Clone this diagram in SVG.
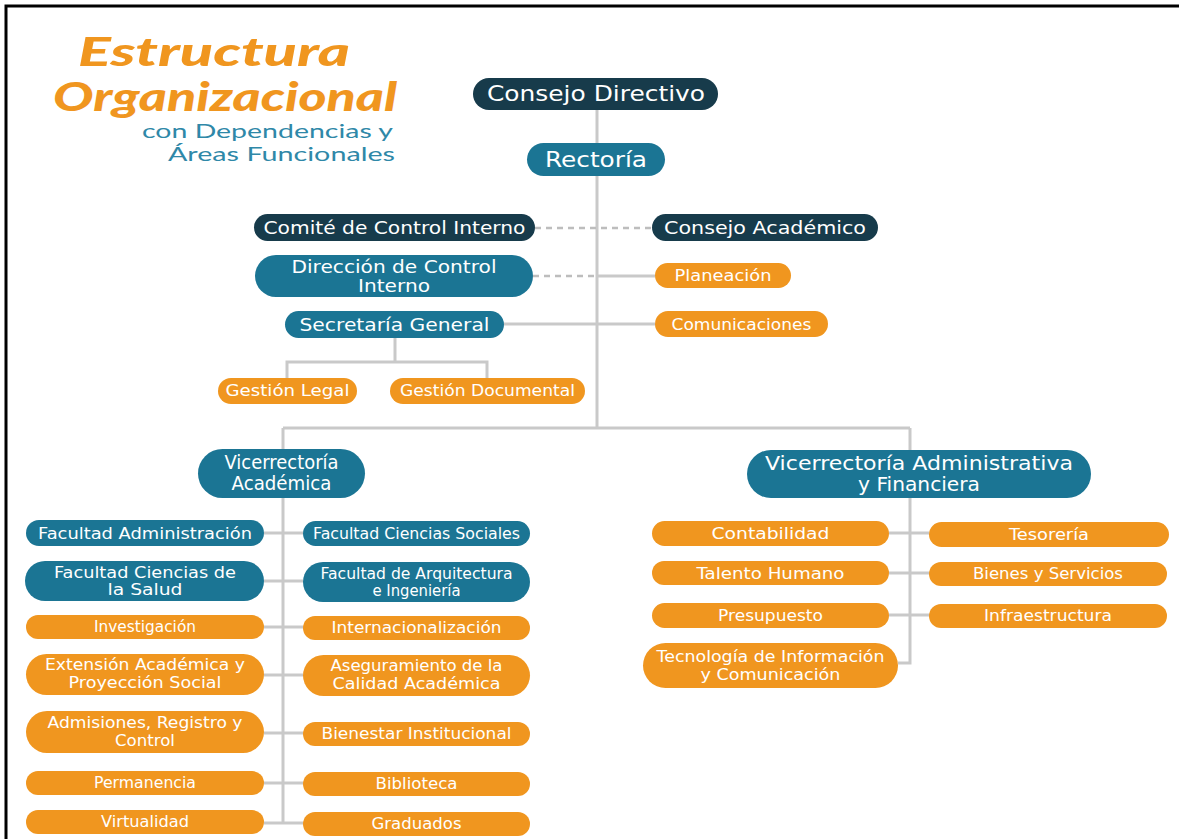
<svg xmlns="http://www.w3.org/2000/svg" width="1179" height="839" viewBox="0 0 1179 839">
<style>
.dk{fill:#173b4b}
.tl{fill:#1b7594}
.or{fill:#f0961f}
text{font-family:"DejaVu Sans","Liberation Sans",sans-serif;fill:#ffffff;text-anchor:middle}
.s21{font-size:21px}
.s19{font-size:19px}
.s18{font-size:18px}
.s16{font-size:16px}
.s15{font-size:15px}
.s14{font-size:15px}
.ln{stroke:#c9c9c9;stroke-width:3;fill:none}
.ds{stroke:#bdbdbd;stroke-width:2.5;fill:none;stroke-dasharray:6 5}
.ttl{font-family:"Lato","DejaVu Sans",sans-serif;font-style:italic;font-weight:900;fill:#f0961f;text-anchor:start}
.sub{font-family:"Lato","DejaVu Sans",sans-serif;fill:#2f88a8;text-anchor:start;font-size:19px}
</style>
<rect width="1179" height="839" fill="#ffffff"/>
<path d="M6 839 V6 H1179" stroke="#000" stroke-width="3" fill="none"/>

<g id="title">
<text class="ttl" x="78" y="66" font-size="40" textLength="272" lengthAdjust="spacingAndGlyphs">Estructura</text>
<text class="ttl" x="53" y="111" font-size="40" textLength="344" lengthAdjust="spacingAndGlyphs">Organizacional</text>
<text class="sub" x="142" y="138" textLength="251" lengthAdjust="spacingAndGlyphs">con Dependencias y</text>
<text class="sub" x="168" y="161" textLength="227" lengthAdjust="spacingAndGlyphs">Áreas Funcionales</text>
</g>

<g id="connectors">
<path class="ln" d="M597 110 V428"/>
<path class="ln" d="M283 428 H910"/>
<path class="ln" d="M283 428 V449"/>
<path class="ln" d="M283 498 V823"/>
<path class="ln" d="M910 428 V450"/>
<path class="ln" d="M910 498 V663 H898"/>
<path class="ds" d="M535 228 H652"/>
<path class="ds" d="M533 276 H597"/>
<path class="ln" d="M597 276 H655"/>
<path class="ln" d="M504 324 H655"/>
<path class="ln" d="M395 338 V362 M287 378 V362 H487 V378"/>
<path class="ln" d="M264 533 H303 M264 581 H303 M264 627 H303 M264 675 H303 M264 733 H303 M264 783 H303 M264 823 H303"/>
<path class="ln" d="M889 533 H929 M889 573 H929 M889 615 H929"/>
</g>

<g id="consejo-directivo"><rect class="dk" x="473" y="78" width="245" height="32" rx="16"/><text class="s21" x="596" y="101" textLength="218" lengthAdjust="spacingAndGlyphs">Consejo Directivo</text></g>
<g id="rectoria"><rect class="tl" x="527" y="143" width="138" height="33" rx="16.5"/><text class="s21" x="596" y="167" textLength="102" lengthAdjust="spacingAndGlyphs">Rectoría</text></g>
<g id="comite-control"><rect class="dk" x="254" y="214" width="281" height="27" rx="13.5"/><text class="s18" x="394.5" y="234" textLength="262" lengthAdjust="spacingAndGlyphs">Comité de Control Interno</text></g>
<g id="consejo-academico"><rect class="dk" x="652" y="214" width="226" height="27" rx="13.5"/><text class="s18" x="765" y="234" textLength="202" lengthAdjust="spacingAndGlyphs">Consejo Académico</text></g>
<g id="direccion-control"><rect class="tl" x="255" y="255" width="278" height="42" rx="21"/><text class="s18" x="394" y="273" textLength="205" lengthAdjust="spacingAndGlyphs">Dirección de Control</text><text class="s18" x="394" y="292" textLength="72" lengthAdjust="spacingAndGlyphs">Interno</text></g>
<g id="secretaria"><rect class="tl" x="285" y="311" width="219" height="27" rx="13.5"/><text class="s18" x="394.5" y="331" textLength="190" lengthAdjust="spacingAndGlyphs">Secretaría General</text></g>
<g id="planeacion"><rect class="or" x="655" y="263" width="136" height="25" rx="12.5"/><text class="s15" x="723" y="281" textLength="97" lengthAdjust="spacingAndGlyphs">Planeación</text></g>
<g id="comunicaciones"><rect class="or" x="655" y="311" width="173" height="26" rx="13"/><text class="s15" x="741.5" y="329.5" textLength="140" lengthAdjust="spacingAndGlyphs">Comunicaciones</text></g>
<g id="gestion-legal"><rect class="or" x="218" y="378" width="139" height="26" rx="13"/><text class="s15" x="287.5" y="396" textLength="124" lengthAdjust="spacingAndGlyphs">Gestión Legal</text></g>
<g id="gestion-documental"><rect class="or" x="390" y="378" width="195" height="26" rx="13"/><text class="s15" x="487.5" y="396" textLength="175" lengthAdjust="spacingAndGlyphs">Gestión Documental</text></g>

<g id="vice-academica"><rect class="tl" x="198" y="449" width="167" height="49" rx="24.5"/><text class="s19" x="281.5" y="469" textLength="114" lengthAdjust="spacingAndGlyphs">Vicerrectoría</text><text class="s19" x="281.5" y="490" textLength="100" lengthAdjust="spacingAndGlyphs">Académica</text></g>
<g id="vice-administrativa"><rect class="tl" x="747" y="450" width="344" height="48" rx="24"/><text class="s19" x="919" y="470" textLength="308" lengthAdjust="spacingAndGlyphs">Vicerrectoría Administrativa</text><text class="s19" x="919" y="491" textLength="122" lengthAdjust="spacingAndGlyphs">y Financiera</text></g>

<g id="fac-administracion"><rect class="tl" x="26" y="520" width="238" height="26" rx="13"/><text class="s16" x="145" y="538.5" textLength="214" lengthAdjust="spacingAndGlyphs">Facultad Administración</text></g>
<g id="fac-sociales"><rect class="tl" x="303" y="521" width="227" height="25" rx="12.5"/><text class="s16" x="416.5" y="539" textLength="207" lengthAdjust="spacingAndGlyphs">Facultad Ciencias Sociales</text></g>
<g id="fac-salud"><rect class="tl" x="25" y="561" width="239" height="40" rx="20"/><text class="s16" x="145" y="578" textLength="182" lengthAdjust="spacingAndGlyphs">Facultad Ciencias de</text><text class="s16" x="145" y="595" textLength="75" lengthAdjust="spacingAndGlyphs">la Salud</text></g>
<g id="fac-arquitectura"><rect class="tl" x="303" y="562" width="227" height="40" rx="20"/><text class="s16" x="416.5" y="579" textLength="192" lengthAdjust="spacingAndGlyphs">Facultad de Arquitectura</text><text class="s16" x="416.5" y="596" textLength="88" lengthAdjust="spacingAndGlyphs">e Ingeniería</text></g>
<g id="investigacion"><rect class="or" x="26" y="615" width="238" height="24" rx="12"/><text class="s14" x="145" y="632" textLength="102" lengthAdjust="spacingAndGlyphs">Investigación</text></g>
<g id="internacionalizacion"><rect class="or" x="303" y="616" width="227" height="24" rx="12"/><text class="s14" x="416.5" y="633" textLength="170" lengthAdjust="spacingAndGlyphs">Internacionalización</text></g>
<g id="extension"><rect class="or" x="26" y="654" width="238" height="41" rx="20.5"/><text class="s14" x="145" y="670" textLength="200" lengthAdjust="spacingAndGlyphs">Extensión Académica y</text><text class="s14" x="145" y="688" textLength="153" lengthAdjust="spacingAndGlyphs">Proyección Social</text></g>
<g id="aseguramiento"><rect class="or" x="303" y="655" width="227" height="41" rx="20.5"/><text class="s14" x="416.5" y="671" textLength="172" lengthAdjust="spacingAndGlyphs">Aseguramiento de la</text><text class="s14" x="416.5" y="689" textLength="168" lengthAdjust="spacingAndGlyphs">Calidad Académica</text></g>
<g id="admisiones"><rect class="or" x="26" y="711" width="238" height="42" rx="21"/><text class="s14" x="145" y="728" textLength="195" lengthAdjust="spacingAndGlyphs">Admisiones, Registro y</text><text class="s14" x="145" y="746" textLength="60" lengthAdjust="spacingAndGlyphs">Control</text></g>
<g id="bienestar"><rect class="or" x="303" y="722" width="227" height="24" rx="12"/><text class="s14" x="416.5" y="739" textLength="190" lengthAdjust="spacingAndGlyphs">Bienestar Institucional</text></g>
<g id="permanencia"><rect class="or" x="26" y="771" width="238" height="24" rx="12"/><text class="s14" x="145" y="788" textLength="102" lengthAdjust="spacingAndGlyphs">Permanencia</text></g>
<g id="biblioteca"><rect class="or" x="303" y="772" width="227" height="24" rx="12"/><text class="s14" x="416.5" y="789" textLength="82" lengthAdjust="spacingAndGlyphs">Biblioteca</text></g>
<g id="virtualidad"><rect class="or" x="26" y="810" width="238" height="24" rx="12"/><text class="s14" x="145" y="827" textLength="88" lengthAdjust="spacingAndGlyphs">Virtualidad</text></g>
<g id="graduados"><rect class="or" x="303" y="812" width="227" height="24" rx="12"/><text class="s14" x="416.5" y="829" textLength="90" lengthAdjust="spacingAndGlyphs">Graduados</text></g>

<g id="contabilidad"><rect class="or" x="652" y="521" width="237" height="25" rx="12.5"/><text class="s15" x="770.5" y="539" textLength="118" lengthAdjust="spacingAndGlyphs">Contabilidad</text></g>
<g id="tesoreria"><rect class="or" x="929" y="522" width="240" height="25" rx="12.5"/><text class="s15" x="1049" y="540" textLength="80" lengthAdjust="spacingAndGlyphs">Tesorería</text></g>
<g id="talento-humano"><rect class="or" x="652" y="561" width="237" height="24" rx="12"/><text class="s15" x="770.5" y="578.5" textLength="148" lengthAdjust="spacingAndGlyphs">Talento Humano</text></g>
<g id="bienes-servicios"><rect class="or" x="929" y="562" width="238" height="24" rx="12"/><text class="s15" x="1048" y="579" textLength="150" lengthAdjust="spacingAndGlyphs">Bienes y Servicios</text></g>
<g id="presupuesto"><rect class="or" x="652" y="603" width="237" height="25" rx="12.5"/><text class="s15" x="770.5" y="621" textLength="105" lengthAdjust="spacingAndGlyphs">Presupuesto</text></g>
<g id="infraestructura"><rect class="or" x="929" y="604" width="238" height="24" rx="12"/><text class="s15" x="1048" y="621" textLength="128" lengthAdjust="spacingAndGlyphs">Infraestructura</text></g>
<g id="tecnologia"><rect class="or" x="643" y="643" width="255" height="45" rx="22.5"/><text class="s15" x="770.5" y="662" textLength="228" lengthAdjust="spacingAndGlyphs">Tecnología de Información</text><text class="s15" x="770.5" y="680" textLength="140" lengthAdjust="spacingAndGlyphs">y Comunicación</text></g>
</svg>
